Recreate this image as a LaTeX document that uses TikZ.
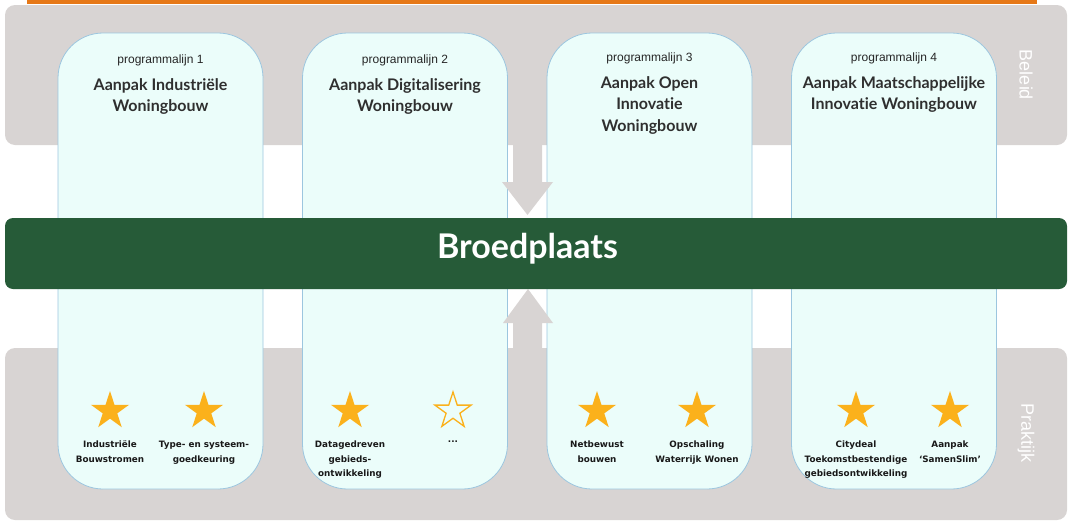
\documentclass[tikz,border=0pt]{standalone}
\usepackage{fontspec}
\setmainfont{Lato}[Ligatures={NoCommon,NoRequired,NoContextual}]
\newfontfamily\progfont{Liberation Sans}
\newfontfamily\sterfont{DejaVu Sans}
\usetikzlibrary{positioning,shapes.geometric}
\definecolor{bandgrijs}{HTML}{D8D4D3}
\definecolor{lijnvul}{HTML}{EBFDFA}
\definecolor{lijnrand}{HTML}{9CC6DF}
\definecolor{broedgroen}{HTML}{265B38}
\definecolor{oranje}{HTML}{E67817}
\definecolor{stergoud}{HTML}{FBB11B}
\definecolor{titelgrijs}{HTML}{2F2F2F}
\begin{document}
\begin{tikzpicture}[x=1pt,y=-1pt,node distance=22pt,
  band/.style={fill=bandgrijs,rounded corners=10pt,inner sep=0pt,minimum width=1062pt},
  lijn/.style={draw=lijnrand,line width=0.8pt,fill=lijnvul,rounded corners=45pt,inner sep=0pt,minimum width=205pt,minimum height=456pt},
  prog/.style={font=\progfont\fontsize{12}{14}\selectfont,text=black!85,inner sep=0pt},
  titel/.style={anchor=north,align=center,inner sep=0pt,text=titelgrijs,font=\bfseries\fontsize{16}{21.5}\selectfont},
  ster/.style={star,star points=5,star point ratio=2.618,minimum size=40pt,inner sep=0pt,fill=stergoud},
  leeg/.style={ster,fill=none,draw=stergoud,line width=1.3pt,minimum size=38pt},
  sterlabel/.style={anchor=north,align=center,inner sep=0pt,text=black!90,font=\sterfont\bfseries\fontsize{8.8}{14.5}\selectfont},
  zijlabel/.style={rotate=-90,text=white,font=\progfont\fontsize{18}{20}\selectfont}]
\useasboundingbox (0,0) rectangle (1076,525);
\node[band,minimum height=140pt] (beleid) at (536,75) {};
\node[band,minimum height=172pt] (praktijk) at (536,434) {};
\fill[oranje] (27,0) rectangle (1037,4);
\node[lijn] (lijn1) at (160.5,261) {};
\node[lijn] (lijn2) at (405,261) {};
\node[lijn] (lijn3) at (649.5,261) {};
\node[lijn] (lijn4) at (894,261) {};
\fill[bandgrijs] (513,145) -- (542,145) -- (542,182) -- (553,182) -- (527.5,215) -- (502,182) -- (513,182) -- cycle;
\fill[bandgrijs] (513,350) -- (513,323) -- (503,323) -- (528,289) -- (553,323) -- (542,323) -- (542,350) -- cycle;
\node[fill=broedgroen,rounded corners=8pt,inner sep=0pt,minimum width=1062pt,minimum height=71pt] (broed) at (536,253.5) {};
\node[text=white,font=\bfseries\fontsize{34}{38}\selectfont] (broedtekst) at (527.5,249) {Broedplaats};
\node[zijlabel] (beleidtekst) at (1026,75) {Beleid};
\node[zijlabel] (praktijktekst) at (1026,433) {Praktijk};
\node[titel] (t1) at (160.5,78) {Aanpak Industriële\\Woningbouw};
\node[titel] (t2) at (405,78) {Aanpak Digitalisering\\Woningbouw};
\node[titel] (t3) at (649.5,76) {Aanpak Open\\Innovatie\\Woningbouw};
\node[titel] (t4) at (894,76) {Aanpak Maatschappelijke\\Innovatie Woningbouw};
\node[prog] (p1) at (160.5,60) {programmalijn 1};
\node[prog] (p2) at (405,60) {programmalijn 2};
\node[prog] (p3) at (649.5,58) {programmalijn 3};
\node[prog] (p4) at (894,58) {programmalijn 4};
\node[ster] (s11) at (110,411) {};
\node[ster] (s12) at (204,411) {};
\node[ster] (s21) at (350,411) {};
\node[leeg] (s22) at (453,411) {};
\node[ster] (s31) at (597,411) {};
\node[ster] (s32) at (697,411) {};
\node[ster] (s41) at (856,411) {};
\node[ster] (s42) at (950,411) {};
\node[sterlabel] (l11) [below=of s11] {Industriële\\Bouwstromen};
\node[sterlabel] (l12) [below=of s12] {Type- en systeem-\\goedkeuring};
\node[sterlabel] (l21) [below=of s21] {Datagedreven\\gebieds-\\ontwikkeling};
\node[sterlabel] (l22) [below=of s22] {\raisebox{2pt}{...}};
\node[sterlabel] (l31) [below=of s31] {Netbewust\\bouwen};
\node[sterlabel] (l32) [below=of s32] {Opschaling\\Waterrijk Wonen};
\node[sterlabel] (l41) [below=of s41] {Citydeal\\Toekomstbestendige\\gebiedsontwikkeling};
\node[sterlabel] (l42) [below=of s42] {Aanpak\\‘SamenSlim’};
\end{tikzpicture}
\end{document}
